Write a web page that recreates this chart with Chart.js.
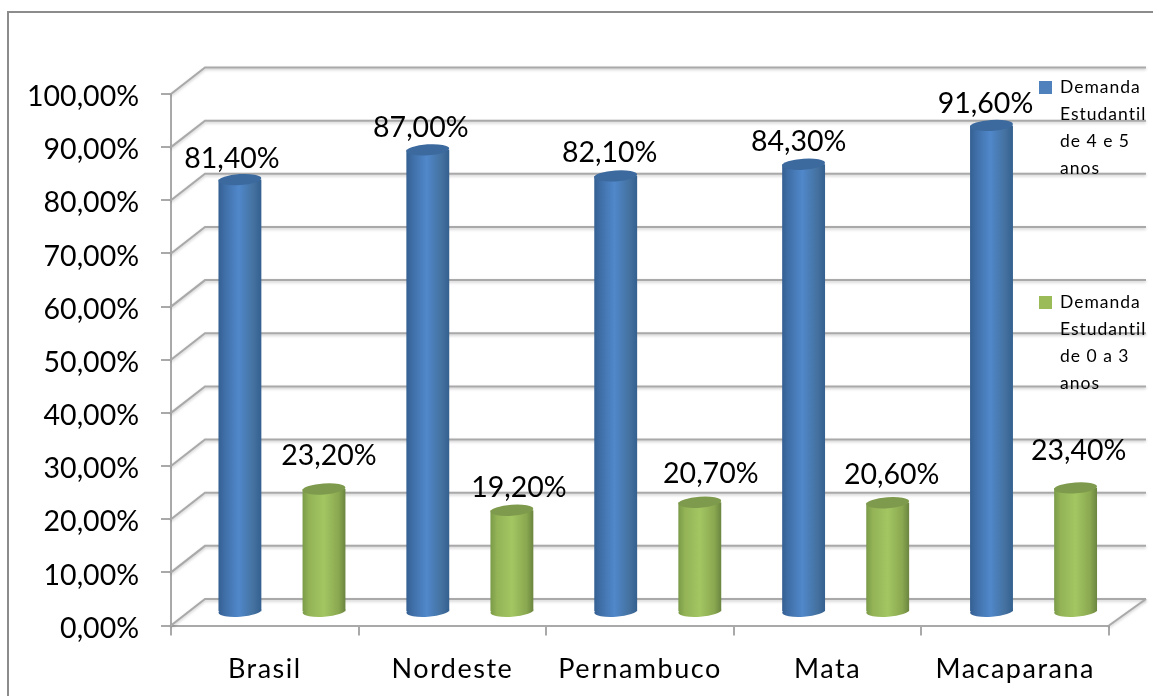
<!DOCTYPE html>
<html>
<head>
<meta charset="utf-8">
<title>Demanda Estudantil</title>
<script src="https://cdn.jsdelivr.net/npm/chart.js@4"></script>
<style>
html, body { margin: 0; padding: 0; background: #fff; }
#wrap { width: 1153px; height: 696px; }
</style>
</head>
<body>
<div id="wrap"><canvas id="chart" width="1153" height="696"></canvas></div>
<script>
const categories = ["Brasil", "Nordeste", "Pernambuco", "Mata", "Macaparana"];
const demanda4e5 = [81.4, 87.0, 82.1, 84.3, 91.6];
const demanda0a3 = [23.2, 19.2, 20.7, 20.6, 23.4];
const legend4e5 = ["Demanda", "Estudantil", "de 4 e 5", "anos"];
const legend0a3 = ["Demanda", "Estudantil", "de 0 a 3", "anos"];

// nudges for the value labels, [dx, gap above the bar top]
const shift4e5 = [[-8, 21], [-7, 22], [-6, 23], [-5, 22], [-6, 22]];
const shift0a3 = [[5, 33], [7, 22], [11, 28], [4, 28], [3, 37]];

const FONT = "Lato, Carlito, Calibri, sans-serif";
const GRID = "#a9a9a9";
const DEPTH_X = 34, DEPTH_Y = 26.5;

const pct = v => v.toFixed(2).replace(".", ",") + "%";

function blueStops(g) {
    g.addColorStop(0, "#345f92");
    g.addColorStop(0.14, "#3f6ea6");
    g.addColorStop(0.47, "#5088cb");
    g.addColorStop(0.82, "#44719f");
    g.addColorStop(1, "#33608f");
}
function greenStops(g) {
    g.addColorStop(0, "#7a9a48");
    g.addColorStop(0.15, "#93b356");
    g.addColorStop(0.5, "#a3c662");
    g.addColorStop(0.84, "#8aa850");
    g.addColorStop(1, "#6b8540");
}
const series = [
    { stops: blueStops, cap: "#3c6a9e", shift: shift4e5 },
    { stops: greenStops, cap: "#7e9a4c", shift: shift0a3 },
];

// bars stand half way back on the floor, slightly stretched like the back wall
function midPlane(chart) {
    const area = chart.chartArea;
    const k = 1 + ((1146 - area.left - DEPTH_X) / (area.right - area.left) - 1) / 2;
    return {
        k: k,
        x: x => area.left + DEPTH_X / 2 + (x - area.left) * k,
        dy: -DEPTH_Y / 2,
    };
}

// the scale has no option for these, so wrap its label drawing
function tweakLabels(scale, dy, spacing) {
    if (scale.$tweaked) return;
    scale.$tweaked = true;
    const drawLabels = scale.drawLabels;
    scale.drawLabels = function (area) {
        const ctx = this.ctx;
        ctx.save();
        ctx.translate(0, dy);
        ctx.letterSpacing = spacing;
        drawLabels.call(this, area);
        ctx.restore();
    };
}

const walls = {
    id: "walls",
    beforeDraw(chart) {
        const ctx = chart.ctx;
        ctx.save();
        ctx.fillStyle = "#fff";
        ctx.fillRect(0, 0, chart.width, chart.height);
        ctx.strokeStyle = "#8c8c8c";
        ctx.lineWidth = 2;
        ctx.beginPath();
        ctx.moveTo(8, 696);
        ctx.lineTo(8, 12);
        ctx.lineTo(1153, 12);
        ctx.stroke();
        ctx.restore();
    },
    beforeDatasetsDraw(chart) {
        const ctx = chart.ctx;
        const y = chart.scales.y;
        const area = chart.chartArea;
        const backRight = 1146;
        ctx.save();
        ctx.strokeStyle = GRID;
        ctx.lineWidth = 2;
        ctx.shadowColor = "rgba(0,0,0,0.22)";
        ctx.shadowBlur = 3;
        ctx.shadowOffsetY = 1.5;
        y.ticks.forEach(t => {
            const py = y.getPixelForValue(t.value);
            ctx.beginPath();
            ctx.moveTo(area.left, py);
            ctx.lineTo(area.left + DEPTH_X, py - DEPTH_Y);
            ctx.lineTo(backRight, py - DEPTH_Y);
            ctx.stroke();
        });
        // right edge of the floor
        const floor = y.getPixelForValue(0);
        ctx.beginPath();
        ctx.moveTo(area.right, floor);
        ctx.lineTo(backRight, floor - DEPTH_Y);
        ctx.stroke();
        ctx.restore();
    },
    afterDraw(chart) {
        const ctx = chart.ctx;
        ctx.save();
        ctx.textBaseline = "middle";
        ctx.textAlign = "left";
        ctx.font = "17.5px " + FONT;
        ctx.letterSpacing = "1px";
        [[legend4e5, 87, "#4f81bd"], [legend0a3, 302, "#9bbb59"]].forEach(([lines, top, color]) => {
            ctx.fillStyle = color;
            ctx.fillRect(1039, top - 6, 13, 13);
            ctx.fillStyle = "#000";
            lines.forEach((line, i) => ctx.fillText(line, 1060, top + i * 27));
        });
        ctx.restore();
    },
};

const cylinders = {
    id: "cylinders",
    beforeDatasetDraw(chart, args) {
        const ctx = chart.ctx;
        const plane = midPlane(chart);
        const s = series[args.index];
        args.meta.data.forEach(el => {
            const g = ctx.createLinearGradient(el.x - el.width / 2, 0, el.x + el.width / 2, 0);
            s.stops(g);
            el.options = Object.assign({}, el.options, { backgroundColor: g });
        });
        ctx.save();
        ctx.transform(plane.k, 0, 0, 1, plane.x(0), plane.dy);
    },
    afterDatasetDraw(chart, args) {
        const ctx = chart.ctx;
        const s = series[args.index];
        args.meta.data.forEach(el => {
            const rx = el.width / 2;
            ctx.fillStyle = el.options.backgroundColor;
            ctx.beginPath();
            ctx.ellipse(el.x, el.base, rx, 5.5, -0.07, 0, Math.PI * 2);
            ctx.fill();
            ctx.fillStyle = s.cap;
            ctx.beginPath();
            ctx.ellipse(el.x, el.y, rx, 5.5, -0.07, 0, Math.PI * 2);
            ctx.fill();
        });
        ctx.restore();
    },
    afterDatasetsDraw(chart) {
        const ctx = chart.ctx;
        const plane = midPlane(chart);
        ctx.save();
        ctx.font = "28.5px " + FONT;
        ctx.fillStyle = "#000";
        ctx.textAlign = "center";
        ctx.textBaseline = "middle";
        chart.data.datasets.forEach((ds, d) => {
            chart.getDatasetMeta(d).data.forEach((el, i) => {
                const shift = series[d].shift[i];
                ctx.fillText(pct(ds.data[i]), plane.x(el.x) + shift[0], el.y + plane.dy - shift[1]);
            });
        });
        ctx.restore();
    },
};

new Chart(document.getElementById("chart"), {
    type: "bar",
    data: {
        labels: categories,
        datasets: [
            { label: "Demanda Estudantil de 4 e 5 anos", data: demanda4e5, backgroundColor: "#4f81bd" },
            { label: "Demanda Estudantil de 0 a 3 anos", data: demanda0a3, backgroundColor: "#9bbb59" },
        ],
    },
    options: {
        responsive: false,
        animation: false,
        categoryPercentage: 0.895,
        barPercentage: 0.51,
        layout: { padding: { top: 94, right: 44, bottom: 0, left: 0 } },
        plugins: { legend: { display: false }, tooltip: { enabled: false } },
        scales: {
            x: {
                afterFit(scale) { scale.height = 70.5; tweakLabels(scale, 0, "1.5px"); },
                grid: { drawOnChartArea: false, color: GRID, lineWidth: 2, tickLength: 10 },
                border: { color: GRID, width: 2 },
                ticks: { color: "#000", font: { family: FONT, size: 27 }, padding: 18, maxRotation: 0 },
            },
            y: {
                min: 0,
                max: 100,
                afterFit(scale) { scale.width = 171; tweakLabels(scale, 3, "0px"); },
                grid: { drawOnChartArea: false, color: GRID, lineWidth: 2, tickLength: 10 },
                border: { color: GRID, width: 2 },
                ticks: { stepSize: 10, color: "#000", font: { family: FONT, size: 28.5 }, padding: 22, callback: v => pct(v) },
            },
        },
    },
    plugins: [walls, cylinders],
});
</script>
</body>
</html>
